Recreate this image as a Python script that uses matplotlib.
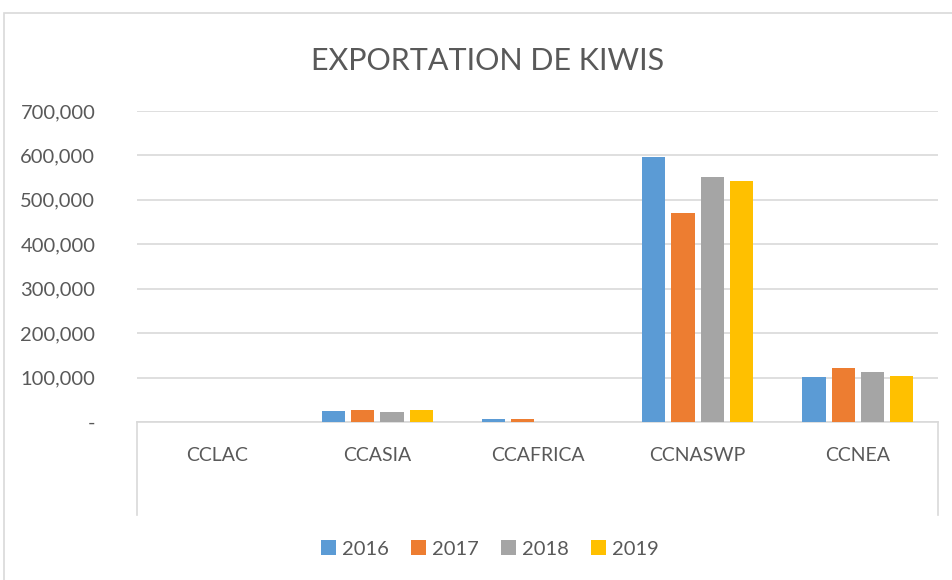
import matplotlib.pyplot as plt
from matplotlib.patches import Rectangle
from matplotlib.lines import Line2D
import numpy as np

regions = ["CCLAC", "CCASIA", "CCAFRICA", "CCNASWP", "CCNEA"]
years = ["2016", "2017", "2018", "2019"]
exports = {
    "2016": [300, 25000, 6000, 596000, 102000],
    "2017": [800, 26000, 7000, 471000, 121000],
    "2018": [0, 22000, 0, 551000, 112000],
    "2019": [0, 28000, 0, 542000, 104000],
}
colors = ["#5B9BD5", "#ED7D31", "#A5A5A5", "#FFC000"]

TXT = "#595959"
plt.rcParams["font.family"] = ["Lato", "DejaVu Sans"]

fig = plt.figure(figsize=(9.53, 5.8), dpi=100)
ax = fig.add_axes([137 / 953, 1 - 422 / 580, 801 / 953, 311 / 580])

# chart border
fig.patches.append(Rectangle((4 / 953, -0.1), 1.1, 1 - 13 / 580 + 0.1,
                             transform=fig.transFigure, fill=False,
                             edgecolor="#D9D9D9", linewidth=1.2))

x = np.arange(len(regions))
step, width = 0.183, 0.145
for i, (y, c) in enumerate(zip(years, colors)):
    ax.bar(x + (i - 1.5) * step, exports[y], width, color=c, label=y, zorder=3)

ax.set_xlim(-0.5, len(regions) - 0.5)
ax.set_ylim(0, 700000)
ax.set_yticks(range(0, 700001, 100000))
ax.set_yticklabels(["-"] + [f"{v:,}" for v in range(100000, 700001, 100000)])
ax.set_xticks(x)
ax.set_xticklabels(regions)
ax.tick_params(axis="y", length=0, pad=30, labelsize=14.5, labelcolor=TXT)
ax.tick_params(axis="x", length=0, pad=18, labelsize=14, labelcolor=TXT)
ax.grid(axis="y", color="#D9D9D9", linewidth=1.2, zorder=0)
for s in ["top", "right", "left"]:
    ax.spines[s].set_visible(False)
ax.spines["bottom"].set_color("#D9D9D9")
ax.spines["bottom"].set_linewidth(1.2)

# category axis end ticks
for xf in (137 / 953, 938 / 953):
    fig.add_artist(Line2D([xf, xf], [1 - 422 / 580, 1 - 515 / 580],
                          transform=fig.transFigure, color="#D9D9D9", linewidth=1.2))

fig.text(488 / 953, 1 - 61 / 580, "EXPORTATION DE KIWIS", ha="center", va="center",
         fontsize=22, color=TXT)

fig.legend(loc="center", bbox_to_anchor=(490 / 953, 1 - 549 / 580), ncol=4,
           frameon=False, fontsize=14.5, labelcolor=TXT, handlelength=0.75,
           handleheight=0.75, handletextpad=0.3, columnspacing=1.1)

fig.savefig("out.png", dpi=100)
